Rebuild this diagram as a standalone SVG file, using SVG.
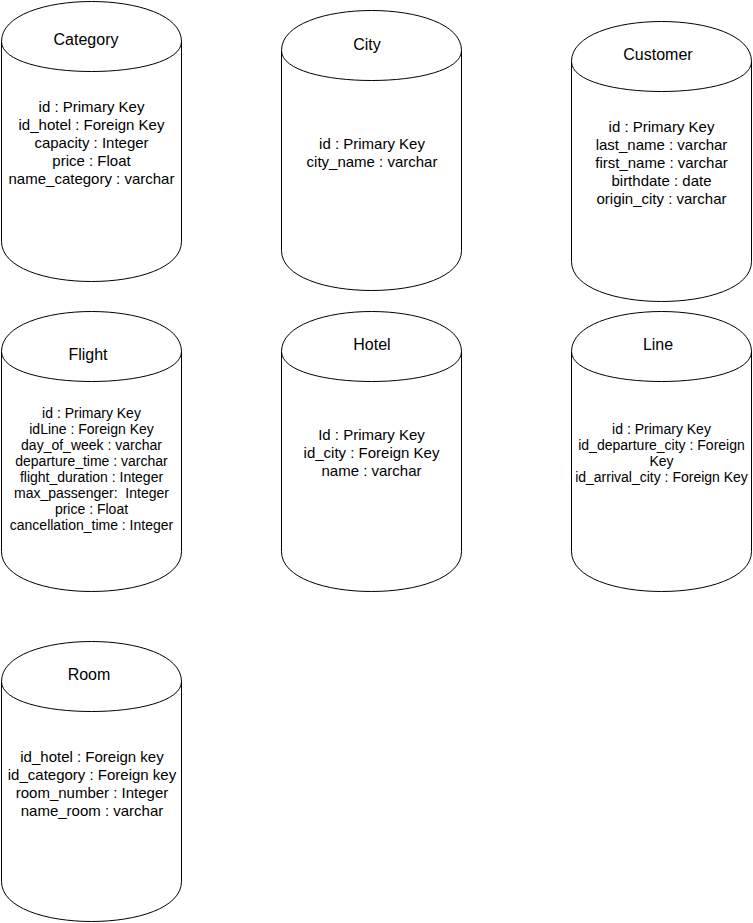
<svg xmlns="http://www.w3.org/2000/svg" xmlns:xlink="http://www.w3.org/1999/xlink" width="753" height="923" viewBox="0 0 753 923">
<style>
.cyl{fill:#ffffff;stroke:#000000;stroke-width:1}
text{font-family:"Liberation Sans",Arial,Helvetica,sans-serif;fill:#000000;text-anchor:middle}
.t{font-size:16px}
.b{font-size:15px}
.s{font-size:14px}
</style>
<defs>
<path id="cyl" d="M0,40 C0,-13.33 180,-13.33 180,40 L180,240 C180,293.33 0,293.33 0,240 Z M0,40 C0,80 180,80 180,40"/>
</defs>
<rect width="753" height="923" fill="#ffffff"/>
<g id="connectors"></g>
<g id="category">
<use href="#cyl" class="cyl" x="1.5" y="1.5"/>
<text class="t" x="86" y="45">Category</text>
<text class="b" x="91.5" y="111.5">id : Primary Key</text>
<text class="b" x="91.5" y="129.5">id_hotel : Foreign Key</text>
<text class="b" x="91.5" y="147.5">capacity : Integer</text>
<text class="b" x="91.5" y="165.5">price : Float</text>
<text class="b" x="91.5" y="183.5">name_category : varchar</text>
</g>
<g id="city">
<use href="#cyl" class="cyl" x="281.5" y="10.5"/>
<text class="t" x="367" y="50">City</text>
<text class="b" x="372" y="148.5">id : Primary Key</text>
<text class="b" x="372" y="166.5">city_name : varchar</text>
</g>
<g id="customer">
<use href="#cyl" class="cyl" x="571.5" y="21.5"/>
<text class="t" x="658" y="60">Customer</text>
<text class="b" x="661.5" y="131.5">id : Primary Key</text>
<text class="b" x="661.5" y="149.5">last_name : varchar</text>
<text class="b" x="661.5" y="167.5">first_name : varchar</text>
<text class="b" x="661.5" y="185.5">birthdate : date</text>
<text class="b" x="661.5" y="203.5">origin_city : varchar</text>
</g>
<g id="flight">
<use href="#cyl" class="cyl" x="1.5" y="311.5"/>
<text class="t" x="88" y="360">Flight</text>
<text class="s" x="91.5" y="417.5">id : Primary Key</text>
<text class="s" x="91.5" y="433.5">idLine : Foreign Key</text>
<text class="s" x="91.5" y="449.5">day_of_week : varchar</text>
<text class="s" x="91.5" y="465.5">departure_time : varchar</text>
<text class="s" x="91.5" y="481.5">flight_duration : Integer</text>
<text class="s" x="91.5" y="497.5" xml:space="preserve">max_passenger:  Integer</text>
<text class="s" x="91.5" y="513.5">price : Float</text>
<text class="s" x="91.5" y="529.5">cancellation_time : Integer</text>
</g>
<g id="hotel">
<use href="#cyl" class="cyl" x="281.5" y="311.5"/>
<text class="t" x="372" y="350">Hotel</text>
<text class="b" x="371.5" y="439.5">Id : Primary Key</text>
<text class="b" x="371.5" y="457.5">id_city : Foreign Key</text>
<text class="b" x="371.5" y="475.5">name : varchar</text>
</g>
<g id="line">
<use href="#cyl" class="cyl" x="571.5" y="311.5"/>
<text class="t" x="658" y="350">Line</text>
<text class="s" x="661.5" y="433.5">id : Primary Key</text>
<text class="s" x="661.5" y="449.5">id_departure_city : Foreign</text>
<text class="s" x="661.5" y="465.5">Key</text>
<text class="s" x="661.5" y="481.5">id_arrival_city : Foreign Key</text>
</g>
<g id="room">
<use href="#cyl" class="cyl" x="1.5" y="641.5"/>
<text class="t" x="89" y="680">Room</text>
<text class="b" x="92" y="761.5">id_hotel : Foreign key</text>
<text class="b" x="92" y="779.5">id_category : Foreign key</text>
<text class="b" x="92" y="797.5">room_number : Integer</text>
<text class="b" x="92" y="815.5">name_room : varchar</text>
</g>
</svg>
